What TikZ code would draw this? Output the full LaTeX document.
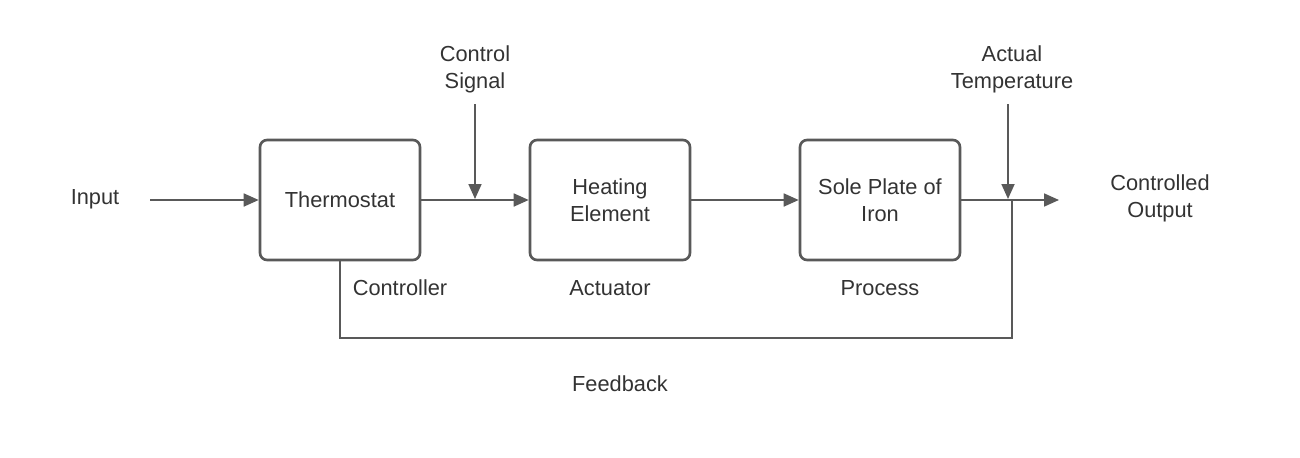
\documentclass[tikz,border=0pt]{standalone}
\usepackage{fontspec}
\setmainfont{Liberation Sans}
\usetikzlibrary{arrows.meta}
\definecolor{linegray}{HTML}{595959}
\definecolor{textgray}{HTML}{333333}
\tikzset{
  block/.style={draw=linegray,line width=1.5pt,rounded corners=4pt,minimum width=3.2cm,minimum height=2.4cm,align=center,text=textgray},
  lbl/.style={align=center,text=textgray},
  sig/.style={draw=linegray,line width=1pt,-{Triangle[length=0.3cm,width=0.26cm]}},
  wire/.style={draw=linegray,line width=1pt}
}
\begin{document}
\fontsize{12.4}{15.4}\selectfont
\begin{tikzpicture}[x=0.02cm,y=-0.02cm]
\useasboundingbox (0,0) rectangle (1300,457);
\node[block] (thermo) at (340,200) {Thermostat};
\node[block] (heater) at (610,200) {Heating\\Element};
\node[block] (plate) at (880,200) {Sole Plate of\\Iron};
\node[lbl] (input) at (95,199) {Input};
\node[lbl] (ctrlsig) at (475,69) {Control\\Signal};
\node[lbl] (acttemp) at (1012,69) {Actual\\Temperature};
\node[lbl] (output) at (1160,198) {Controlled\\Output};
\node[lbl] (controller) at (400,288) {Controller};
\node[lbl] (actuator) at (610,288) {Actuator};
\node[lbl] (process) at (880,288) {Process};
\node[lbl] (feedback) at (620,384) {Feedback};
\coordinate (instart) at (150,200);
\coordinate (cstop) at (475,104);
\coordinate (csend) at (475,199);
\coordinate (attop) at (1008,104);
\coordinate (atend) at (1008,199);
\coordinate (outend) at (1059,200);
\coordinate (fbstart) at (1012,200);
\draw[sig] (instart) -- (thermo.west);
\draw[sig] (thermo.east) -- (heater.west);
\draw[sig] (heater.east) -- (plate.west);
\draw[sig] (plate.east) -- (outend);
\draw[sig] (cstop) -- (csend);
\draw[sig] (attop) -- (atend);
% feedback loop
\draw[wire] (fbstart) -- (1012,338) -| (thermo.south);
\end{tikzpicture}
\end{document}
